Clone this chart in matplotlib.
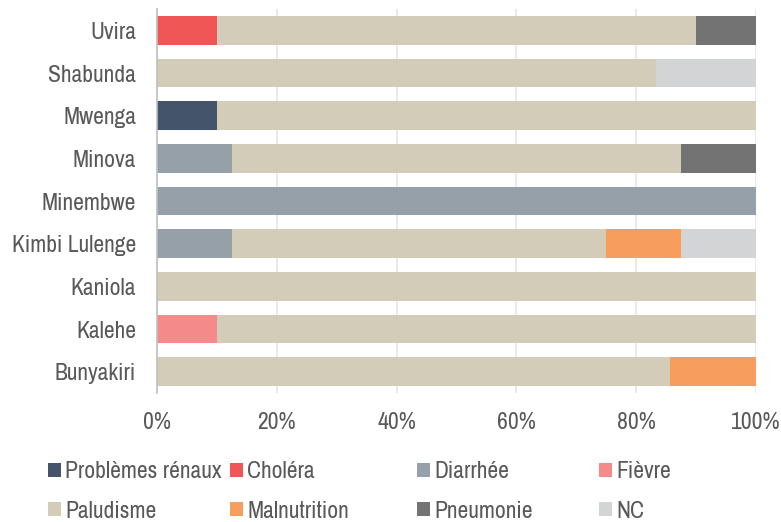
import numpy as np
import matplotlib.pyplot as plt

# police etroite, proche d'Arial Narrow
plt.rcParams['font.family'] = ['Archivo Narrow', 'Liberation Sans', 'DejaVu Sans']

sites = ['Uvira', 'Shabunda', 'Mwenga', 'Minova', 'Minembwe',
         'Kimbi Lulenge', 'Kaniola', 'Kalehe', 'Bunyakiri']
maladies = ['Problèmes rénaux', 'Choléra', 'Diarrhée', 'Fièvre',
            'Paludisme', 'Malnutrition', 'Pneumonie', 'NC']

# parts (en fraction) par site, meme ordre que sites
renaux       = [0,    0,     0.10, 0,     0,    0,     0,    0,    0]
cholera      = [0.10, 0,     0,    0,     0,    0,     0,    0,    0]
diarrhee     = [0,    0,     0,    0.125, 1.0,  0.125, 0,    0,    0]
fievre       = [0,    0,     0,    0,     0,    0,     0,    0.10, 0]
paludisme    = [0.80, 0.833, 0.90, 0.75,  0,    0.625, 1.0,  0.90, 0.857]
malnutrition = [0,    0,     0,    0,     0,    0.125, 0,    0,    0.143]
pneumonie    = [0.10, 0,     0,    0.125, 0,    0,     0,    0,    0]
nc           = [0,    0.167, 0,    0,     0,    0.125, 0,    0,    0]

series = [renaux, cholera, diarrhee, fievre, paludisme, malnutrition, pneumonie, nc]
couleurs = ['#44546A', '#F05656', '#96A0A9', '#F48A8A',
            '#D3CCB9', '#F79E5F', '#737373', '#D3D4D6']

fig = plt.figure(figsize=(7.81, 5.22), dpi=100)
ax = fig.add_axes([157/781, 1-393/522, 599/781, 384/522])

y = np.arange(len(sites))[::-1]
gauche = np.zeros(len(sites))
barres = []
for vals, nom, c in zip(series, maladies, couleurs):
    v = np.array(vals)
    b = ax.barh(y, v, left=gauche, height=0.67, color=c, label=nom)
    barres.append(b)
    gauche += v

ax.set_xlim(0, 1)
ax.set_ylim(-0.5, len(sites)-0.5)
ax.set_yticks(y)
ax.set_yticklabels(sites)
ax.set_xticks(np.linspace(0, 1, 6))
ax.set_xticklabels(['0%', '20%', '40%', '60%', '80%', '100%'])
ax.tick_params(colors='#595959', labelsize=17, length=0)
ax.tick_params(axis='x', pad=14)
ax.tick_params(axis='y', pad=15)
ax.grid(axis='x', color='#E6E6E6', linewidth=1.2)
ax.set_axisbelow(True)
for s in ['top', 'right', 'bottom']:
    ax.spines[s].set_visible(False)
ax.spines['left'].set_color('#BFBFBF')
ax.spines['left'].set_linewidth(1.2)

# legende : 2 lignes x 4 colonnes, positions fixes (pixels)
xcol = [48, 230, 417, 599]
yrang = [472, 511]
for i, b in enumerate(barres):
    xp = xcol[i % 4] / 781
    yp = 1 - yrang[i // 4] / 522
    fig.legend(handles=[b], loc='center left', bbox_to_anchor=(xp, yp),
               frameon=False, fontsize=17, labelcolor='#595959',
               handlelength=0.55, handleheight=0.55, handletextpad=0.18,
               borderpad=0, borderaxespad=0)

plt.savefig('out.png', dpi=100)
